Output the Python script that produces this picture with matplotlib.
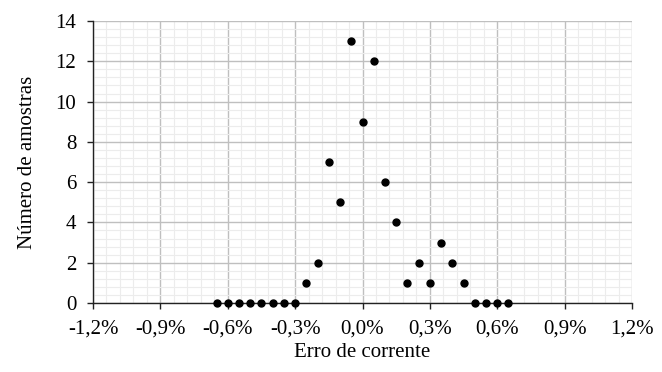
import numpy as np
import matplotlib.pyplot as plt
from matplotlib.ticker import MultipleLocator

# error in percent and number of samples
erro = [-0.65, -0.60, -0.55, -0.50, -0.45, -0.40, -0.35, -0.30, -0.25, -0.20,
        -0.15, -0.10, -0.05, 0.00, 0.05, 0.10, 0.15, 0.20, 0.25, 0.30,
        0.35, 0.40, 0.45, 0.50, 0.55, 0.60, 0.65]
amostras = [0, 0, 0, 0, 0, 0, 0, 0, 1, 2,
            7, 5, 13, 9, 12, 6, 4, 1, 2, 1,
            3, 2, 1, 0, 0, 0, 0]

xticks = [-1.2, -0.9, -0.6, -0.3, 0.0, 0.3, 0.6, 0.9, 1.2]
xticklabels = ['-1,2%', '-0,9%', '-0,6%', '-0,3%', '0,0%', '0,3%', '0,6%', '0,9%', '1,2%']
yticks = [0, 2, 4, 6, 8, 10, 12, 14]

plt.rcParams['font.family'] = ['Liberation Serif', 'DejaVu Serif']
plt.rcParams['font.size'] = 15

fig = plt.figure(figsize=(6.62, 3.72), dpi=100)
ax = fig.add_axes([0.1405, 0.1855, 0.8142, 0.758])

ax.plot(erro, amostras, 'o', color='black', markersize=5, zorder=3, clip_on=False)

ax.set_xlim(-1.2, 1.2)
ax.set_ylim(0, 14)
ax.set_xticks(xticks)
ax.set_xticklabels(xticklabels)
ax.set_yticks(yticks)
ax.xaxis.set_minor_locator(MultipleLocator(0.06))
ax.yaxis.set_minor_locator(MultipleLocator(0.4))

ax.grid(which='major', color='#bfbfbf', linewidth=1.0)
ax.grid(which='minor', color='#ececec', linewidth=0.8)
ax.set_axisbelow(True)

for s in ['top', 'right']:
    ax.spines[s].set_visible(False)
for s in ['left', 'bottom']:
    ax.spines[s].set_color('#222222')
    ax.spines[s].set_linewidth(1.0)

ax.tick_params(which='major', length=4, width=1, color='#222222', pad=8)
ax.tick_params(which='minor', length=0)

ax.set_xlabel('Erro de corrente', labelpad=3)
ax.set_ylabel('Número de amostras', labelpad=13)

fig.savefig('out.png', dpi=100)
